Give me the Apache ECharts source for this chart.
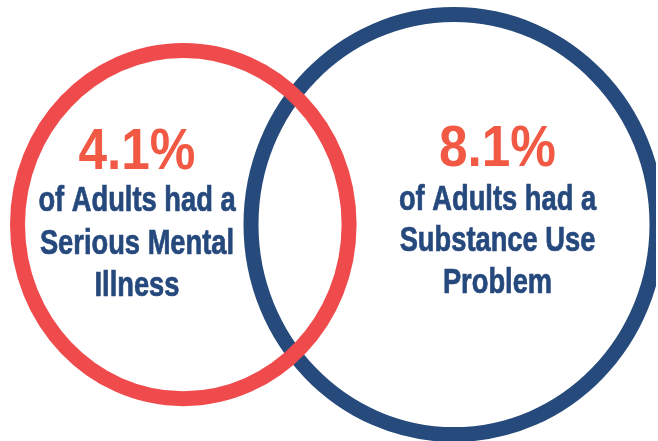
<!DOCTYPE html>
<html>
<head>
<meta charset="utf-8">
<script src="https://cdn.jsdelivr.net/npm/echarts@6/dist/echarts.min.js"></script>
<style>
  html, body { margin: 0; padding: 0; background: #ffffff; }
  #chart { width: 658px; height: 441px; }
</style>
</head>
<body>
<div id="chart"></div>
<script>
// ---- Data ----
const groupNames = ['Serious Mental Illness', 'Substance Use Problem'];
const percentLabels = ['4.1%', '8.1%'];
const descriptionLines = [
  ['of Adults had a', 'Serious Mental', 'Illness'],
  ['of Adults had a', 'Substance Use', 'Problem']
];
// circle geometry (in chart units = pixels of the 658x441 canvas)
const centerX = [183.3, 454];
const centerY = [224.6, 224.5];
const radiusX = [165.8, 203];
const radiusY = [174.1, 210];

// ---- Layout / style (kept separate from data) ----
const ringColors = ['#EF4B4D', '#254A7B'];
const percentColor = '#F25944';
const textColor = '#26497D';
const ringWidth = 15;
const textAnchorX = [137, 497.5];   // horizontal centre of text block
const percentMidY = [153, 150];
const lineMidY = [[201, 244.5, 286], [200, 241, 283]];
const fontFamily = '"Liberation Sans", Arial, sans-serif';
const percentScaleX = 0.9;
const lineScaleX = 0.78;

const drawOrder = [1, 0]; // blue ring behind, red ring on top

const seriesData = drawOrder.map(i => ({
  name: groupNames[i],
  value: [centerX[i], centerY[i], radiusX[i], radiusY[i], i]
}));

const chart = echarts.init(document.getElementById('chart'), null, { renderer: 'canvas' });

chart.setOption({
  backgroundColor: '#ffffff',
  animation: false,
  grid: { left: 0, right: 2, top: 0, bottom: 0 },
  xAxis: { type: 'value', min: 0, max: 656, show: false },
  yAxis: { type: 'value', min: 0, max: 441, inverse: true, show: false },
  series: [
    {
      type: 'custom',
      clip: true,
      coordinateSystem: 'cartesian2d',
      data: seriesData,
      renderItem: function (params, api) {
        const c = api.coord([api.value(0), api.value(1)]);
        const s = api.size([api.value(2), api.value(3)]);
        const idx = api.value(4);
        return {
          type: 'ellipse',
          shape: { cx: c[0], cy: c[1], rx: s[0], ry: s[1] },
          style: { fill: 'none', stroke: ringColors[idx], lineWidth: ringWidth }
        };
      },
      z: 1
    },
    {
      type: 'custom',
      coordinateSystem: 'cartesian2d',
      data: [0, 1].map(i => ({ name: groupNames[i], value: [textAnchorX[i], percentMidY[i], i] })),
      renderItem: function (params, api) {
        const idx = api.value(2);
        const p = api.coord([api.value(0), api.value(1)]);
        const children = [{
          type: 'text',
          x: p[0], y: p[1],
          scaleX: percentScaleX,
          style: {
            text: percentLabels[idx],
            fill: percentColor,
            font: 'bold 57px ' + fontFamily,
            align: 'center',
            verticalAlign: 'middle'
          }
        }];
        descriptionLines[idx].forEach((line, k) => {
          const q = api.coord([api.value(0), lineMidY[idx][k]]);
          children.push({
            type: 'text',
            x: q[0], y: q[1],
            scaleX: lineScaleX,
            style: {
              text: line,
              fill: textColor,
              stroke: textColor,
              lineWidth: 0.7,
              font: 'bold 35px ' + fontFamily,
              align: 'center',
              verticalAlign: 'middle'
            }
          });
        });
        return { type: 'group', children: children };
      },
      z: 2
    }
  ]
});
</script>
</body>
</html>
